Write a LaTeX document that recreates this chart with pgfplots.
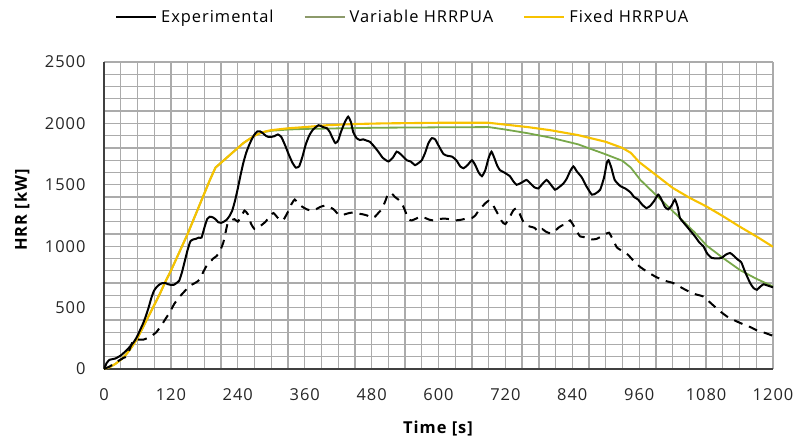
\documentclass[border=0pt]{standalone}
\usepackage{fontspec}
\setmainfont{Open Sans}[LetterSpace=6]
\usepackage{pgfplots}
\pgfplotsset{compat=1.18}
\definecolor{gridgray}{HTML}{ABABAB}
\definecolor{axisdark}{HTML}{404040}
\definecolor{varcol}{HTML}{78A84A}
\definecolor{varleg}{HTML}{8C9A6A}
\definecolor{fixcol}{HTML}{F7C200}
\newcommand\cf{\fontsize{16.5}{19}\selectfont}
\begin{document}
\begin{tikzpicture}
\begin{axis}[
  scale only axis, width=669bp, height=307bp,
  at={(0,0)}, anchor=south west,
  xmin=0, xmax=1200, ymin=0, ymax=2500,
  xtick={0,120,...,1200}, ytick={0,500,...,2500},
  minor xtick={30,60,90,150,180,210,270,300,330,390,420,450,510,540,570,630,660,690,750,780,810,870,900,930,990,1020,1050,1110,1140,1170},
  minor ytick={100,200,300,400,600,700,800,900,1100,1200,1300,1400,1600,1700,1800,1900,2100,2200,2300,2400},
  grid=both,
  major grid style={draw=gridgray, line width=1.3bp},
  minor grid style={draw=gridgray, line width=1.3bp},
  major tick length=0pt, minor tick length=0pt,
  axis x line*=bottom, axis y line*=left,
  x axis line style={draw=axisdark, line width=1.5bp},
  y axis line style={draw=axisdark, line width=1.5bp},
  /pgf/number format/assume math mode=true,
  /pgf/number format/1000 sep={},
  tick label style={font=\cf, text=black!85},
  xticklabel style={yshift=-16bp},
  yticklabel style={xshift=-15bp},
  xlabel={\textbf{Time [s]}}, ylabel={\textbf{HRR [kW]}},
  xlabel style={font=\cf, at={(axis description cs:0.5,0)}, anchor=center, yshift=-60bp},
  ylabel style={font=\cf, at={(axis description cs:0,0.52)}, anchor=center, yshift=82bp},
  legend columns=3,
  legend image code/.code={\draw[#1] (0bp,0bp) -- (40bp,0bp);},
  legend style={draw=none, fill=none, font=\cf, inner sep=0pt,
    at={(axis description cs:0.448,1.1466)}, anchor=center,
    nodes={inner xsep=4bp},
    /tikz/every even column/.append style={column sep=26bp}},
]
\addlegendimage{black, line width=2bp}
\addlegendentry{Experimental}
\addlegendimage{varleg, line width=2bp}
\addlegendentry{Variable HRRPUA}
\addlegendimage{fixcol, line width=2bp}
\addlegendentry{Fixed HRRPUA}

% Variable HRRPUA
\addplot[forget plot, varcol, line width=1.8bp] coordinates {
(0,0) (10,15) (20,40) (30,75) (40,120) (50,180) (60,250) (70,340) (80,430) (90,520)
(100,610) (110,710) (120,800) (130,900) (140,1000) (150,1100) (160,1210) (170,1320)
(180,1430) (190,1540) (200,1640) (210,1680) (220,1720) (230,1760) (240,1800) (250,1840)
(260,1870) (270,1900) (280,1920) (290,1932) (300,1940) (330,1950) (360,1955) (400,1958)
(450,1962) (500,1965) (600,1968) (690,1970) (720,1950) (760,1920) (800,1885) (850,1830)
(900,1748) (930,1695) (945,1640) (962,1540) (987,1430) (1010,1330) (1033,1230) (1060,1110)
(1081,1005) (1110,905) (1141,805) (1170,735) (1200,672)
};
% Fixed HRRPUA
\addplot[forget plot, fixcol, line width=2.1bp] coordinates {
(0,0) (10,15) (20,40) (30,75) (40,120) (50,180) (60,250) (70,340) (80,430) (90,520)
(100,610) (110,710) (120,800) (130,900) (140,1000) (150,1100) (160,1210) (170,1320)
(180,1430) (190,1540) (200,1640) (210,1680) (220,1720) (230,1760) (240,1800) (250,1840)
(260,1870) (270,1900) (280,1920) (290,1935) (300,1945) (330,1960) (360,1970) (400,1985)
(450,1995) (500,2000) (600,2005) (690,2005) (720,1990) (760,1970) (800,1945) (850,1905)
(900,1850) (930,1800) (945,1760) (960,1685) (990,1580) (1020,1475) (1050,1395)
(1080,1325) (1110,1245) (1140,1160) (1170,1080) (1200,995)
};
% Experimental (solid)
\addplot[forget plot, black, line width=2bp, smooth, tension=0.3] coordinates {
(0,0) (5,50) (10,75) (20,85) (30,110) (40,150) (50,200) (55,230) (60,270) (65,320)
(70,370) (75,430) (80,500) (85,580) (90,640) (95,670) (100,690) (105,700) (110,700)
(115,690) (120,685) (125,685) (130,700) (135,720) (140,790) (145,880) (150,970)
(155,1040) (160,1055) (165,1060) (170,1070) (175,1070) (180,1150) (185,1220) (190,1240)
(195,1235) (200,1220) (205,1195) (210,1190) (215,1200) (220,1215) (225,1245) (230,1290)
(235,1370) (240,1470) (245,1580) (250,1680) (255,1760) (260,1820) (265,1870) (270,1910)
(275,1935) (280,1935) (285,1920) (290,1900) (295,1890) (300,1890) (305,1895) (312,1910)
(318,1890) (325,1820) (332,1740) (338,1680) (344,1640) (350,1650) (356,1730) (362,1830)
(368,1900) (375,1950) (385,1985) (393,1970) (400,1960) (405,1930) (410,1880) (415,1840)
(420,1860) (425,1930) (432,2010) (438,2055) (443,2010) (447,1930) (453,1880) (459,1865)
(465,1870) (471,1860) (477,1850) (485,1810) (492,1770) (500,1720) (510,1690) (518,1720)
(525,1770) (532,1750) (543,1700) (550,1690) (558,1660) (565,1680) (570,1700) (576,1760)
(582,1840) (588,1880) (594,1870) (600,1820) (609,1750) (617,1735) (624,1730) (632,1700)
(639,1650) (645,1635) (652,1660) (660,1700) (666,1660) (672,1600) (678,1570) (684,1620)
(690,1720) (695,1770) (700,1720) (705,1660) (710,1620) (718,1600) (728,1570) (734,1530)
(740,1500) (748,1515) (758,1540) (765,1510) (772,1480) (779,1470) (787,1510) (794,1540)
(800,1510) (809,1460) (816,1480) (824,1510) (830,1550) (836,1610) (842,1650) (848,1610)
(857,1560) (865,1490) (875,1420) (882,1430) (890,1460) (897,1560) (902,1680) (905,1700)
(910,1640) (916,1540) (926,1490) (935,1470) (944,1440) (951,1400) (958,1380) (965,1340)
(973,1310) (980,1330) (987,1370) (994,1420) (1000,1380) (1006,1320) (1012,1300)
(1018,1330) (1024,1380) (1029,1320) (1033,1230) (1040,1190) (1051,1130) (1060,1080)
(1068,1030) (1075,1000) (1082,940) (1090,905) (1100,900) (1108,905) (1115,930)
(1123,945) (1130,920) (1137,890) (1143,870) (1150,790) (1159,700) (1165,660) (1171,645)
(1177,670) (1183,690) (1190,680) (1200,665)
};
% Experimental (dashed)
\addplot[forget plot, black, line width=2bp, dash pattern=on 9bp off 7bp, smooth, tension=0.3] coordinates {
(0,0) (10,20) (20,50) (29,75) (35,90) (41,105) (46,160) (52,230) (60,240) (71,240)
(82,260) (94,300) (105,370) (112,420) (118,460) (126,530) (136,590) (142,620) (148,650)
(155,680) (165,705) (172,730) (178,790) (184,840) (190,870) (196,900) (202,920) (208,960)
(214,1030) (218,1110) (222,1190) (228,1210) (234,1220) (240,1200) (246,1240) (252,1290)
(258,1260) (264,1180) (270,1140) (276,1150) (282,1170) (290,1200) (298,1250) (304,1270)
(310,1240) (316,1210) (322,1215) (330,1280) (336,1340) (342,1380) (348,1350) (356,1320)
(364,1300) (372,1290) (380,1300) (388,1320) (396,1330) (404,1320) (412,1300) (420,1260)
(426,1250) (432,1260) (440,1270) (448,1275) (456,1265) (464,1260) (472,1250) (480,1230)
(486,1240) (492,1270) (498,1300) (504,1360) (510,1430) (516,1430) (522,1400) (528,1380)
(534,1350) (540,1290) (546,1220) (552,1210) (560,1225) (568,1240) (576,1230) (584,1215)
(592,1210) (600,1220) (610,1225) (620,1220) (630,1210) (640,1215) (650,1225) (660,1230)
(666,1250) (672,1290) (678,1320) (684,1350) (690,1370) (696,1350) (702,1300) (708,1250)
(714,1200) (720,1180) (728,1240) (734,1290) (740,1310) (746,1260) (752,1200) (758,1170)
(764,1160) (772,1150) (779,1120) (786,1140) (792,1120) (800,1105) (808,1120) (815,1150)
(822,1170) (830,1180) (836,1210) (842,1170) (848,1120) (854,1080) (860,1075) (868,1060)
(876,1055) (884,1060) (892,1080) (900,1100) (906,1110) (912,1060) (920,990) (930,960)
(940,930) (950,880) (962,830) (975,790) (990,750) (1005,720) (1021,700) (1033,670)
(1045,640) (1060,610) (1075,590) (1090,530) (1105,470) (1120,420) (1141,375) (1160,340)
(1171,315) (1185,295) (1200,270)
};
\end{axis}
\pgfresetboundingbox
\path[use as bounding box] (-104bp,-72bp) rectangle (689bp,369bp);
\end{tikzpicture}
\end{document}
